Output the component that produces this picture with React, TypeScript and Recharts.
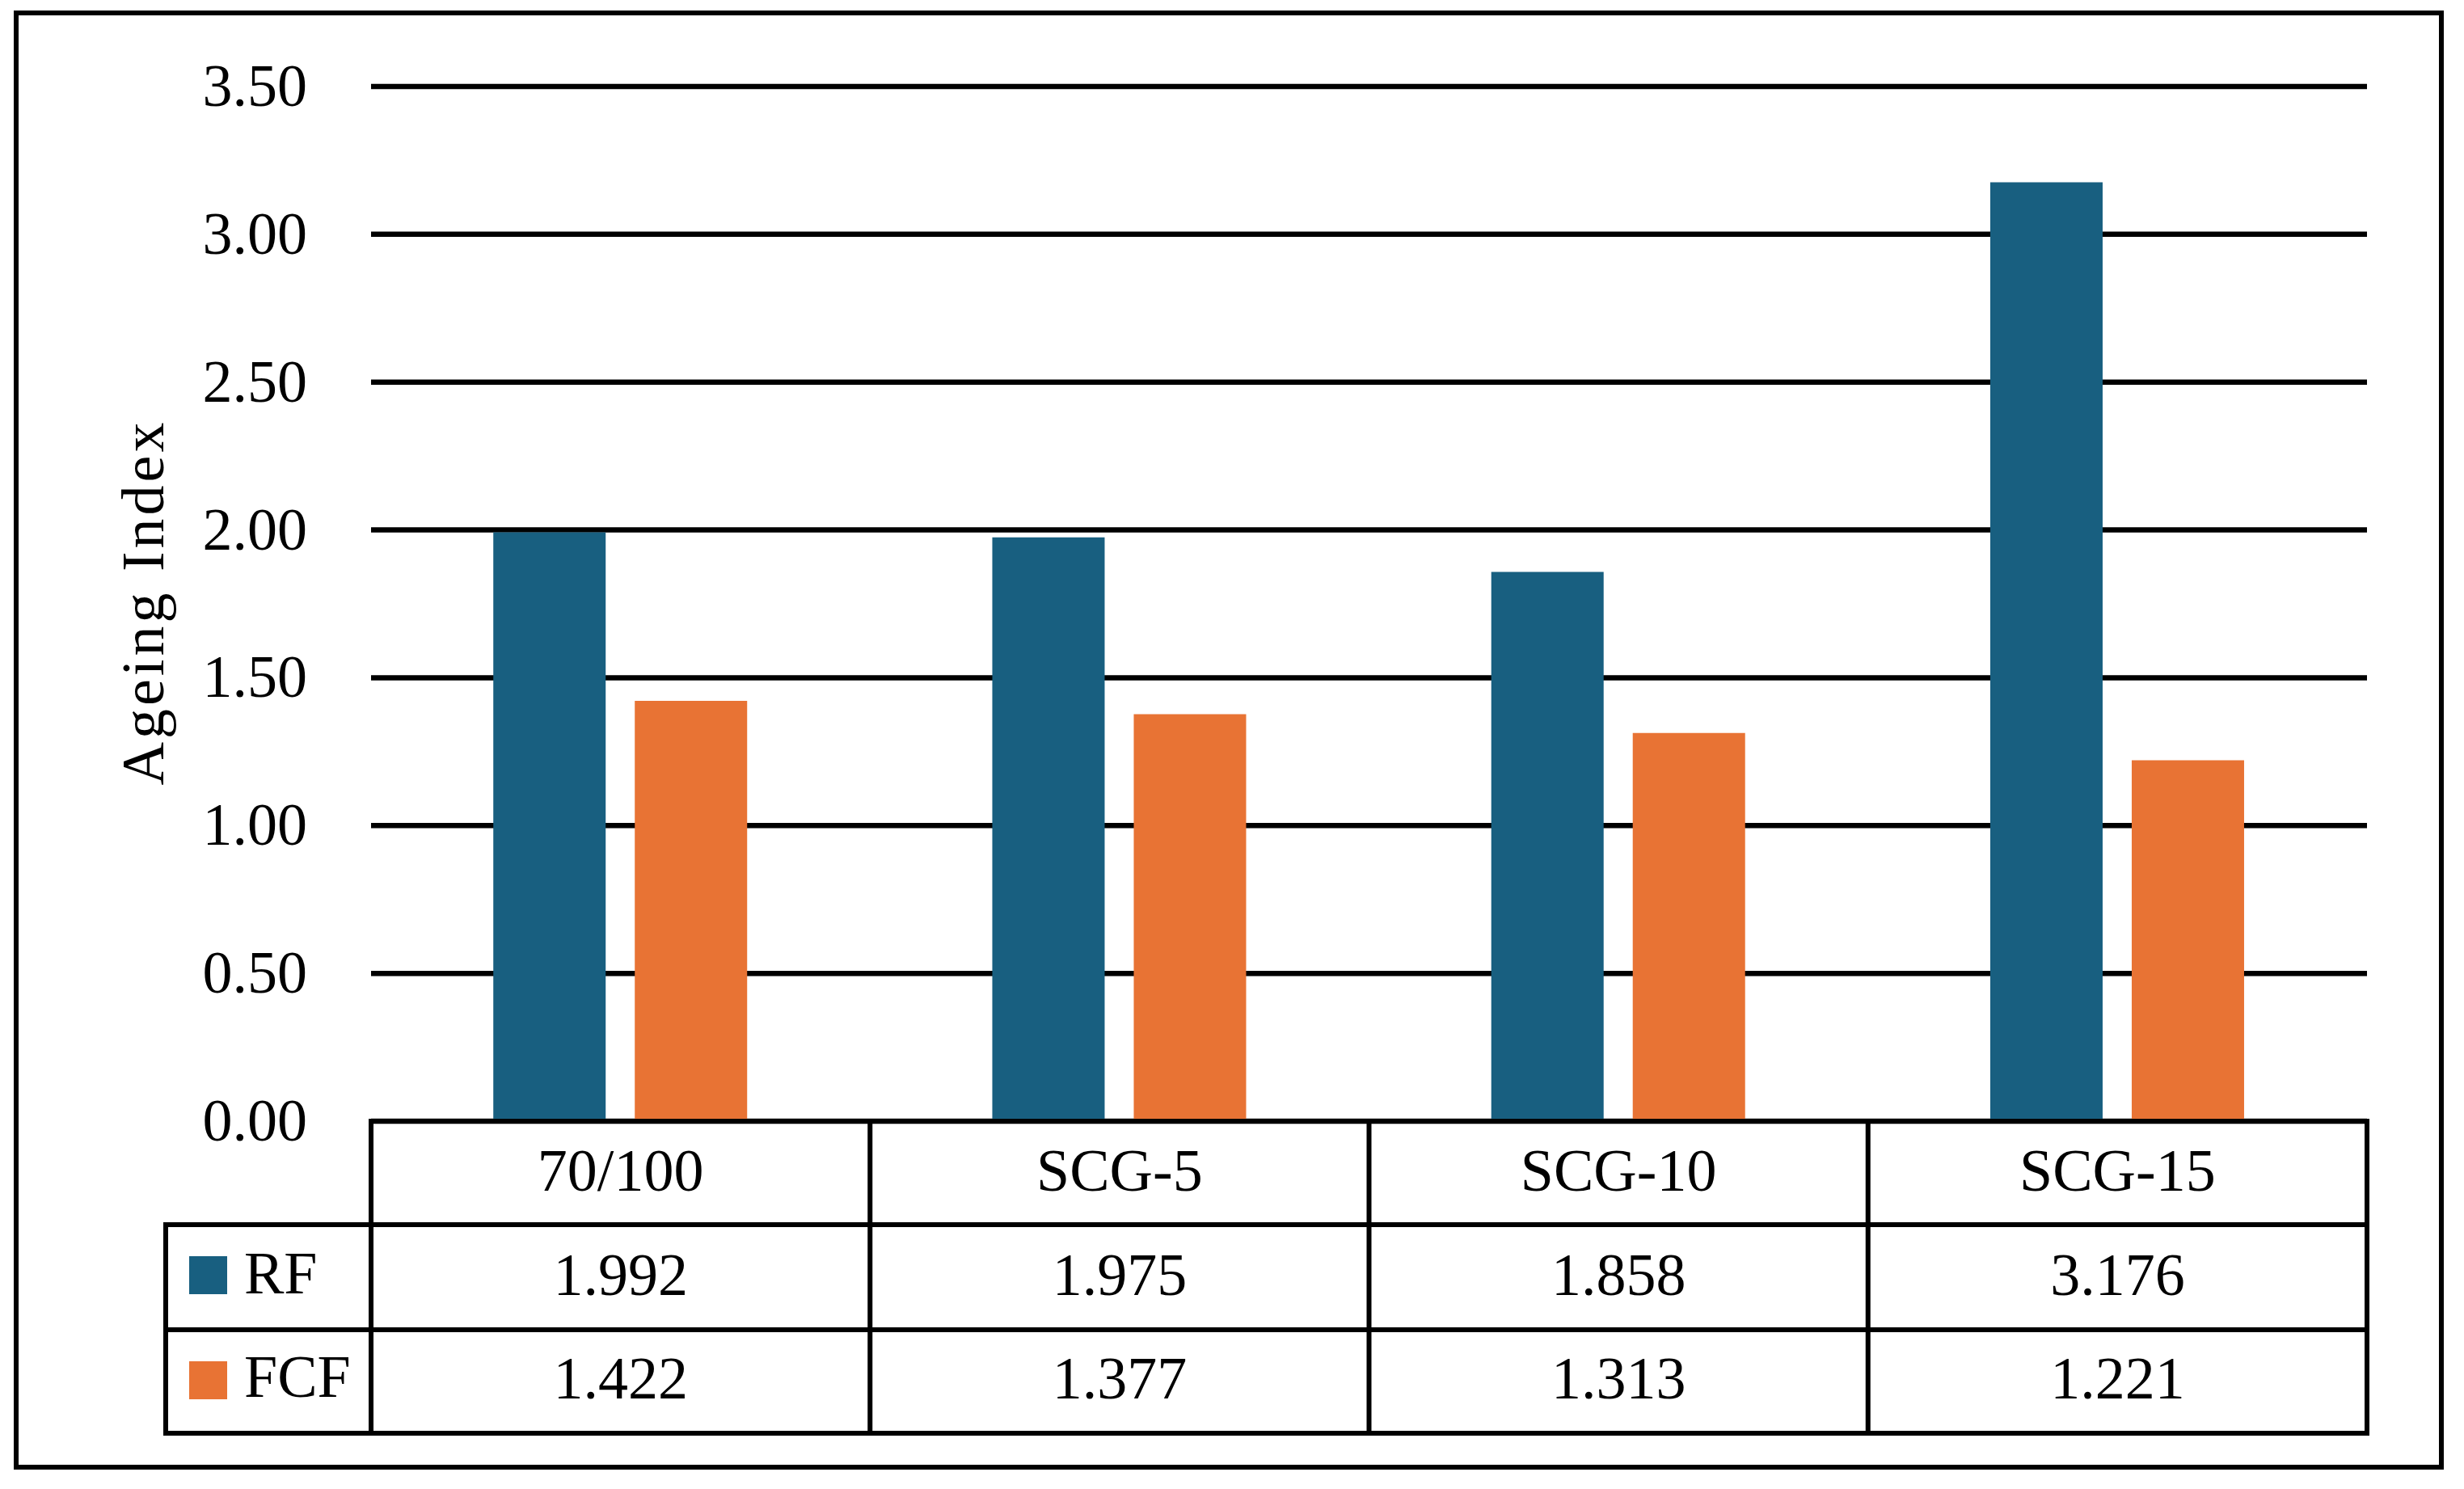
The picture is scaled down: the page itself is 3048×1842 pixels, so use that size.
import React from 'react';
import { BarChart, Bar, XAxis, YAxis, CartesianGrid, Label } from 'recharts';

const categories = ['70/100', 'SCG-5', 'SCG-10', 'SCG-15'];
const rfValues = [1.992, 1.975, 1.858, 3.176];
const fcfValues = [1.422, 1.377, 1.313, 1.221];
const yTicks = [0, 0.5, 1, 1.5, 2, 2.5, 3, 3.5];
const seriesNames = ['RF', 'FCF'];
const seriesColors = ['#185F80', '#E87334'];

const data = categories.map((name, i) => ({ name, RF: rfValues[i], FCF: fcfValues[i] }));

const W = 3048;
const H = 1842;
const FONT = "'Liberation Serif', 'Times New Roman', serif";
const FS = 74;
const LINE = 6;
const PLOT_W = 2469;

const YTick = (props: any) => {
  const { x, y, payload } = props;
  return (
    <text x={x} y={y + 24} textAnchor="end" fontFamily={FONT} fontSize={FS} fill="#000">
      {Number(payload.value).toFixed(2)}
    </text>
  );
};

const TableTick = (props: any) => {
  const { x, y, payload, index, width, visibleTicksCount } = props;
  const n = visibleTicksCount || categories.length;
  const w = typeof width === 'number' && width > 1000 ? width : PLOT_W;
  const bw = w / n;
  const left = x - bw / 2;
  const right = x + bw / 2;
  const rows = [128, 258, 386];
  const idx = typeof index === 'number' ? index : categories.indexOf(payload.value);
  const isLast = idx === n - 1;
  const legendLeft = left - 254;
  return (
    <g>
      {/* cell borders */}
      <line x1={left} x2={left} y1={y} y2={y + rows[2]} stroke="#000" strokeWidth={LINE} />
      {isLast && <line x1={right} x2={right} y1={y} y2={y + rows[2]} stroke="#000" strokeWidth={LINE} />}
      <line x1={left - LINE / 2} x2={right + LINE / 2} y1={y} y2={y} stroke="#000" strokeWidth={LINE} />
      {rows.map((r) => (
        <line key={r} x1={left - LINE / 2} x2={right + LINE / 2} y1={y + r} y2={y + r} stroke="#000" strokeWidth={LINE} />
      ))}
      <text x={x} y={y + 86} textAnchor="middle" fontFamily={FONT} fontSize={FS} fill="#000">
        {payload.value}
      </text>
      <text x={x} y={y + 215} textAnchor="middle" fontFamily={FONT} fontSize={FS} fill="#000">
        {rfValues[idx].toFixed(3)}
      </text>
      <text x={x} y={y + 343} textAnchor="middle" fontFamily={FONT} fontSize={FS} fill="#000">
        {fcfValues[idx].toFixed(3)}
      </text>
      {idx === 0 && (
        <g>
          <line x1={legendLeft} x2={legendLeft} y1={y + rows[0] - LINE / 2} y2={y + rows[2] + LINE / 2} stroke="#000" strokeWidth={LINE} />
          <line x1={legendLeft - LINE / 2} x2={left} y1={y + rows[0]} y2={y + rows[0]} stroke="#000" strokeWidth={LINE} />
          <line x1={legendLeft - LINE / 2} x2={left} y1={y + rows[1]} y2={y + rows[1]} stroke="#000" strokeWidth={LINE} />
          <line x1={legendLeft - LINE / 2} x2={left} y1={y + rows[2]} y2={y + rows[2]} stroke="#000" strokeWidth={LINE} />
          <rect x={left - 225} y={y + 167} width={47} height={47} fill={seriesColors[0]} />
          <text x={left - 157} y={y + 213} fontFamily={FONT} fontSize={FS} fill="#000">{seriesNames[0]}</text>
          <rect x={left - 225} y={y + 297} width={47} height={47} fill={seriesColors[1]} />
          <text x={left - 157} y={y + 341} fontFamily={FONT} fontSize={FS} fill="#000">{seriesNames[1]}</text>
        </g>
      )}
    </g>
  );
};

const YTitle = (props: any) => {
  const vb = props.viewBox || { x: 159, y: 107, width: 300, height: 1280 };
  const cx = vb.x + 43;
  const cy = vb.y + vb.height / 2;
  return (
    <text
      x={cx}
      y={cy}
      transform={`rotate(-90 ${cx} ${cy})`}
      textAnchor="middle"
      fontFamily={FONT}
      fontSize={FS}
      fill="#000"
      textLength={449}
      lengthAdjust="spacing"
    >
      Ageing Index
    </text>
  );
};

export default function App() {
  return (
    <div style={{ position: 'absolute', left: 0, top: 0, width: W, height: H, background: '#fff' }}>
      <div
        style={{
          position: 'absolute',
          left: 17,
          top: 13,
          width: 3006,
          height: 1805,
          border: '6px solid #000',
          boxSizing: 'border-box',
        }}
      />
      <div style={{ position: 'absolute', left: 0, top: 0 }}>
        <BarChart
          width={W}
          height={H}
          data={data}
          margin={{ top: 107, right: 120, bottom: 35, left: 159 }}
          barCategoryGap="24.5%"
          barGap={36}
        >
          <CartesianGrid horizontal vertical={false} stroke="#000" strokeWidth={6.5} />
          <YAxis
            width={300}
            domain={[0, 3.5]}
            ticks={yTicks}
            interval={0}
            axisLine={false}
            tickLine={false}
            tickSize={0}
            tickMargin={79}
            tick={<YTick />}
          >
            <Label content={<YTitle />} />
          </YAxis>
          <XAxis
            dataKey="name"
            height={420}
            interval={0}
            axisLine={false}
            tickLine={false}
            tickSize={0}
            tickMargin={0}
            tick={<TableTick />}
          />
          <Bar dataKey="RF" fill={seriesColors[0]} isAnimationActive={false} />
          <Bar dataKey="FCF" fill={seriesColors[1]} isAnimationActive={false} />
        </BarChart>
      </div>
    </div>
  );
}
